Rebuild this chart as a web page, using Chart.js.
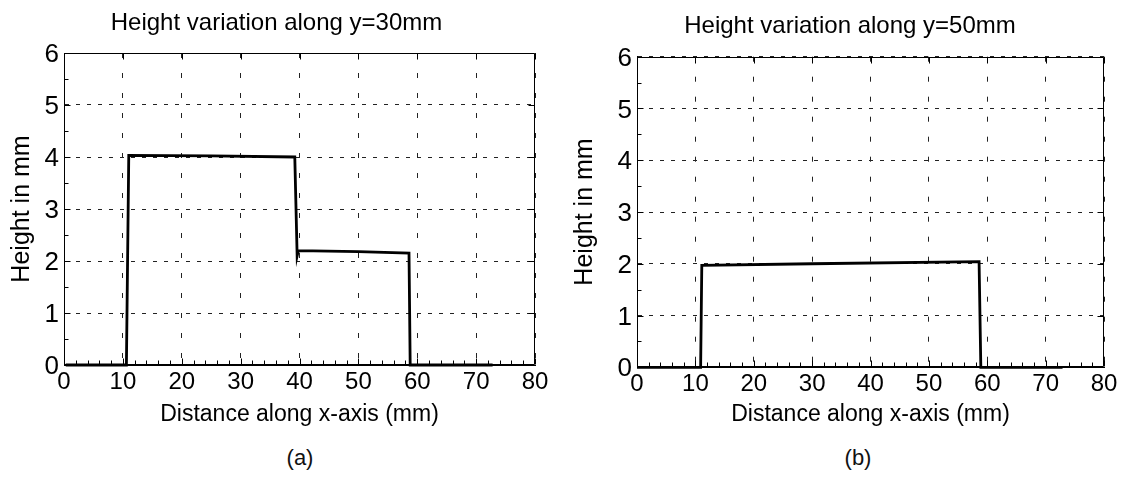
<!DOCTYPE html>
<html><head><meta charset="utf-8">
<script src="https://cdn.jsdelivr.net/npm/chart.js@4.4.0/dist/chart.umd.min.js"></script>
<style>
html,body{margin:0;padding:0;background:#fff;width:1123px;height:482px;overflow:hidden;position:relative;font-family:"Liberation Sans",Arial,sans-serif}
canvas{position:absolute;top:0}
.cap{position:absolute;top:445px;font-size:22px;color:#111;transform:translateX(-50%);line-height:26px}
</style></head><body>
<canvas id="ca" width="560" height="440" style="left:0px"></canvas>
<canvas id="cb" width="563" height="440" style="left:560px"></canvas>
<div class="cap" style="left:300px">(a)</div>
<div class="cap" style="left:858px">(b)</div>
<script>
// ---- data ----
const titleA = 'Height variation along y=30mm';
const titleB = 'Height variation along y=50mm';
const xLabel = 'Distance along x-axis (mm)';
const yLabel = 'Height in mm';
const xTicks = [0, 10, 20, 30, 40, 50, 60, 70, 80];
const yTicks = [0, 1, 2, 3, 4, 5, 6];
// (a) y = 30 mm
const xA = [0.3, 10.6, 11.0, 25.0, 39.2, 39.6, 39.8, 50.0, 58.6, 58.8, 72.8];
const yA = [0, 0, 4.03, 4.02, 4.00, 2.10, 2.20, 2.18, 2.15, 0, 0];
// (b) y = 50 mm
const xB = [0, 10.9, 11.1, 30.0, 58.6, 58.9, 72.9];
const yB = [0, 0, 1.97, 2.00, 2.04, 0, 0];

const FONT = "'Liberation Sans', Arial, sans-serif";

const boxTicks = {
  id: 'boxTicks',
  afterDraw(chart) {
    const {ctx, chartArea: a, scales: {x, y}} = chart;
    const L = Math.round(a.left) + 0.5, R = Math.round(a.right) - 0.5;
    const T = Math.round(a.top) + 0.5, B = Math.round(a.bottom) - 0.5;
    ctx.save();
    ctx.strokeStyle = '#000';
    ctx.lineWidth = 1;
    ctx.beginPath();
    ctx.rect(L, T, R - L, B - T);
    ctx.stroke();
    ctx.beginPath();
    const xStep = (x.max - x.min) / 40;
    for (let v = x.min; v <= x.max + 1e-9; v += xStep) {
      const px = Math.round(x.getPixelForValue(v)) + 0.5;
      const major = Math.abs(v / 10 - Math.round(v / 10)) < 1e-6;
      const len = major ? 6 : 4;
      ctx.moveTo(px, B); ctx.lineTo(px, B - len);
      if (major) { ctx.moveTo(px, T); ctx.lineTo(px, T + len); }
    }
    const yStep = (y.max - y.min) / 12;
    for (let v = y.min; v <= y.max + 1e-9; v += yStep) {
      const py = Math.round(y.getPixelForValue(v)) + 0.5;
      const major = Math.abs(v - Math.round(v)) < 1e-6;
      const len = major ? 6 : 4;
      ctx.moveTo(L, py); ctx.lineTo(L + len, py);
      if (major) { ctx.moveTo(R, py); ctx.lineTo(R - len, py); }
    }
    ctx.stroke();
    ctx.restore();
  }
};

function makeChart(id, xs, ys, title, cfg) {
  const pts = xs.map((v, i) => ({x: v, y: ys[i]}));
  return new Chart(document.getElementById(id), {
    type: 'line',
    data: { datasets: [{ data: pts, borderColor: '#000', borderWidth: 2.8, pointRadius: 0, tension: 0, fill: false, clip: false }] },
    options: {
      responsive: false, animation: false, devicePixelRatio: 1,
      layout: { padding: { left: cfg.padL, right: cfg.padR, top: 0, bottom: 0 } },
      plugins: {
        legend: { display: false }, tooltip: { enabled: false },
        title: { display: true, text: title, color: '#000',
          font: { family: FONT, size: 24, weight: 'normal', lineHeight: 1.2 },
          padding: { top: cfg.titleTop, bottom: cfg.titleBottom } }
      },
      scales: {
        x: {
          type: 'linear', min: 0, max: 80,
          afterBuildTicks: s => { s.ticks = xTicks.map(v => ({value: v})); },
          afterFit: s => { s.height = cfg.xH; },
          ticks: { color: '#000', padding: 3, font: { family: FONT, size: 24 }, maxRotation: 0 },
          grid: { color: '#222', lineWidth: 1, drawTicks: false },
          border: { display: true, color: '#000', width: 1, dash: [5, 15] },
          title: { display: true, text: xLabel, color: '#000', font: { family: FONT, size: 23 }, padding: { top: 0, bottom: 12 } }
        },
        y: {
          type: 'linear', min: 0, max: 6,
          afterBuildTicks: s => { s.ticks = yTicks.map(v => ({value: v})); },
          afterFit: s => { s.width = cfg.yW; },
          ticks: { color: '#000', padding: 5, labelOffset: 2, font: { family: FONT, size: 26 } },
          grid: { color: '#222', lineWidth: 1, drawTicks: false },
          border: { display: true, color: '#000', width: 1, dash: [4, 7] },
          title: { display: true, text: yLabel, color: '#000', font: { family: FONT, size: 25, lineHeight: 1.2 }, padding: { top: cfg.yTitlePad, bottom: 0 } }
        }
      }
    },
    plugins: [boxTicks]
  });
}

makeChart('ca', xA, yA, titleA, { padL: 18, padR: 25, titleTop: 8.6, titleBottom: 15.6, xH: 75, yW: 46, yTitlePad: -11 });
makeChart('cb', xB, yB, titleB, { padL: 36, padR: 19, titleTop: 11.6, titleBottom: 16.3, xH: 72.7, yW: 41, yTitlePad: -26 });
</script>
</body></html>
